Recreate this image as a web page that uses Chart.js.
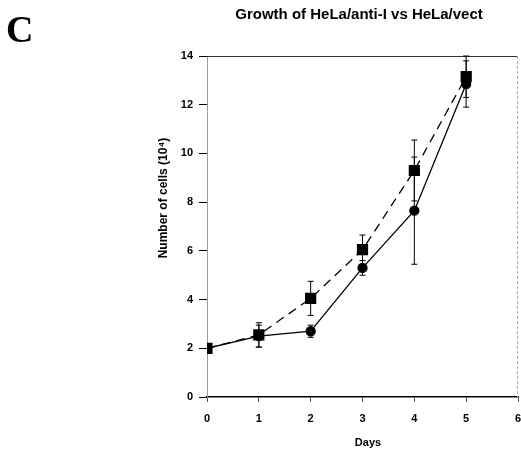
<!DOCTYPE html>
<html>
<head>
<meta charset="utf-8">
<script src="https://cdn.jsdelivr.net/npm/chart.js@4/dist/chart.umd.min.js"></script>
<style>
  html, body { margin: 0; padding: 0; background: #fff; }
  #wrap { width: 521px; height: 451px; position: relative; }
</style>
</head>
<body>
<div id="wrap"><canvas id="growthChart" width="521" height="451"></canvas></div>
<script>
// valori
const days = [0, 1, 2, 3, 4, 5];
const xTicks = [0, 1, 2, 3, 4, 5, 6];
const yTicks = [0, 2, 4, 6, 8, 10, 12, 14];

const antiCells = [2.0, 2.5, 2.7, 5.3, 7.65, 12.85];   // cerchi, linea continua
const antiErr = [0, 0.45, 0.25, 0.3, 2.2, 0.95];

const vectCells = [2.0, 2.55, 4.05, 6.05, 9.3, 13.15];  // quadrati, linea tratteggiata
const vectErr = [0, 0.5, 0.7, 0.6, 1.25, 0.85];

const boldSans = '"Liberation Sans", Arial, sans-serif';

function toPoints(values) {
    return days.map((d, i) => ({ x: d, y: values[i] }));
}

// barre di errore verticali
const errorBars = {
    id: 'errorBars',
    afterDatasetsDraw(chart) {
        const ctx = chart.ctx;
        const xs = chart.scales.x, ys = chart.scales.y;
        ctx.save();
        ctx.strokeStyle = '#000';
        ctx.lineWidth = 1;
        chart.data.datasets.forEach(ds => {
            ds.data.forEach((p, i) => {
                const e = ds.errors[i];
                if (!e) return;
                const px = xs.getPixelForValue(p.x);
                const top = ys.getPixelForValue(p.y + e);
                const bot = ys.getPixelForValue(p.y - e);
                ctx.beginPath();
                ctx.moveTo(px, top); ctx.lineTo(px, bot);
                ctx.moveTo(px - 3, top); ctx.lineTo(px + 3, top);
                ctx.moveTo(px - 3, bot); ctx.lineTo(px + 3, bot);
                ctx.stroke();
            });
        });
        ctx.restore();
    }
};

// cornice e testi
const frameAndText = {
    id: 'frameAndText',
    beforeDatasetsDraw(chart) {
        const ctx = chart.ctx;
        const a = chart.chartArea;
        ctx.save();
        ctx.strokeStyle = '#333';
        ctx.lineWidth = 1;
        ctx.beginPath();
        ctx.moveTo(a.left, a.top + 0.5); ctx.lineTo(a.right, a.top + 0.5);
        ctx.stroke();
        ctx.strokeStyle = '#aaa';
        ctx.setLineDash([3, 2]);
        ctx.beginPath();
        ctx.moveTo(a.right - 0.5, a.top); ctx.lineTo(a.right - 0.5, a.bottom);
        ctx.stroke();
        ctx.restore();
    },
    afterDraw(chart) {
        const ctx = chart.ctx;
        ctx.save();
        ctx.fillStyle = '#000';
        ctx.textAlign = 'center';
        ctx.textBaseline = 'middle';
        ctx.font = 'bold 15px ' + boldSans;
        ctx.fillText('Growth of HeLa/anti-I vs HeLa/vect', 359, 15);
        ctx.font = 'bold 11px ' + boldSans;
        ctx.fillText('Days', 368, 443);
        ctx.font = 'bold 12px ' + boldSans;
        ctx.translate(164, 198);
        ctx.rotate(-Math.PI / 2);
        ctx.fillText('Number of cells (10\u2074)', 0, 0);
        ctx.restore();
        ctx.save();
        ctx.fillStyle = '#000';
        ctx.font = 'bold 38px "Liberation Serif", "Times New Roman", serif';
        ctx.textBaseline = 'alphabetic';
        ctx.fillText('C', 6, 42);
        ctx.restore();
    }
};

const config = {
    type: 'line',
    data: {
        datasets: [{
            label: 'HeLa/anti-I',
            data: toPoints(antiCells),
            errors: antiErr,
            borderColor: '#000',
            backgroundColor: '#000',
            borderWidth: 1.3,
            pointStyle: 'circle',
            pointRadius: 4.5,
            pointHoverRadius: 4.5
        }, {
            label: 'HeLa/vect',
            data: toPoints(vectCells),
            errors: vectErr,
            borderColor: '#000',
            backgroundColor: '#000',
            borderWidth: 1.3,
            borderDash: [9, 6],
            pointStyle: 'rect',
            pointRadius: 7,
            pointHoverRadius: 7
        }]
    },
    options: {
        responsive: false,
        animation: false,
        layout: { autoPadding: false, padding: { top: 56, right: 3, left: 0, bottom: 0 } },
        plugins: {
            legend: { display: false },
            tooltip: { enabled: false }
        },
        scales: {
            x: {
                type: 'linear',
                min: 0,
                max: 6,
                afterFit(scale) {
                    scale.height = 54;
                    scale.paddingLeft = 0;
                    scale.paddingRight = 0;
                },
                afterBuildTicks(scale) { scale.ticks = xTicks.map(v => ({ value: v })); },
                grid: { display: true, drawOnChartArea: false, tickLength: 5, color: '#555' },
                border: { display: true, color: '#000', width: 1.5 },
                ticks: { color: '#000', padding: 10, font: { family: boldSans, size: 11, weight: 'bold' } }
            },
            y: {
                min: 0,
                max: 14,
                afterFit(scale) {
                    scale.width = 207;
                    scale.paddingTop = 0;
                    scale.paddingBottom = 0;
                },
                afterBuildTicks(scale) { scale.ticks = yTicks.map(v => ({ value: v })); },
                grid: { display: true, drawOnChartArea: false, tickLength: 8, color: '#000' },
                border: { display: true, color: '#999', width: 1, dash: [4, 2] },
                ticks: { color: '#000', padding: 6, font: { family: boldSans, size: 11, weight: 'bold' } }
            }
        }
    },
    plugins: [frameAndText, errorBars]
};

const growthChart = new Chart(document.getElementById('growthChart'), config);
</script>
</body>
</html>
